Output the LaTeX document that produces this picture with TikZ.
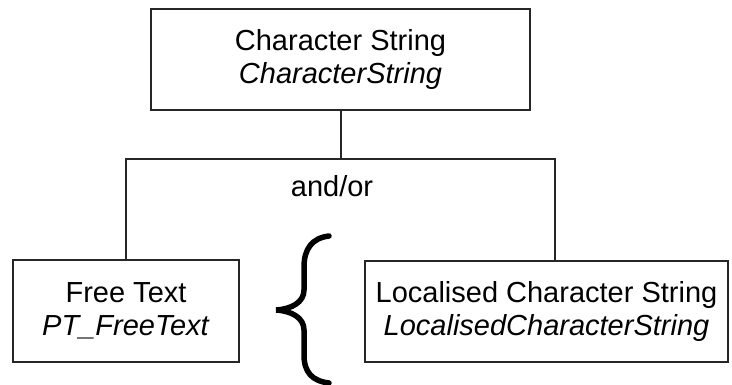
\documentclass[tikz,border=0pt]{standalone}
\usepackage{fontspec}
\setmainfont{Liberation Sans}
\usepackage{tikz}

\begin{document}
\begin{tikzpicture}[x=1pt,y=-1pt,
  box/.style={draw=black!85,line width=2pt,align=center,inner sep=2pt,
    font=\fontsize{29pt}{33pt}\selectfont},
  conn/.style={draw=black!85,line width=2pt}]
  \useasboundingbox (0,0) rectangle (732,385);
  \node[box,minimum width=379pt,minimum height=101pt] (cs) at (340.5,59.5)
    {Character String\\\textit{CharacterString}};
  \node[box,minimum width=226pt,minimum height=102pt] (ft) at (126,311)
    {Free Text\\\textit{PT\_FreeText}};
  \node[box,minimum width=363pt,minimum height=101pt] (lcs) at (546.5,311.5)
    {Localised Character String\\\textit{LocalisedCharacterString}};
  \node[font=\fontsize{29pt}{33pt}\selectfont,inner sep=0pt] (andor) at (332,186) {and/or};
  \coordinate (jn) at (340.5,159);
  \coordinate (rj) at (555,159);
  \draw[conn] (cs.south) -- (jn);
  \draw[conn] (ft.north) |- (rj) -- (rj |- lcs.north);
  \draw[line width=5.5pt,line cap=round] (329,236) .. controls (312,238) and (304,249) .. (304,267)
    -- (304,290) .. controls (304,302) and (292,309) .. (276,310)
    .. controls (292,311) and (304,318) .. (304,330)
    -- (304,355) .. controls (304,372) and (312,381) .. (329,383);
\end{tikzpicture}
\end{document}
